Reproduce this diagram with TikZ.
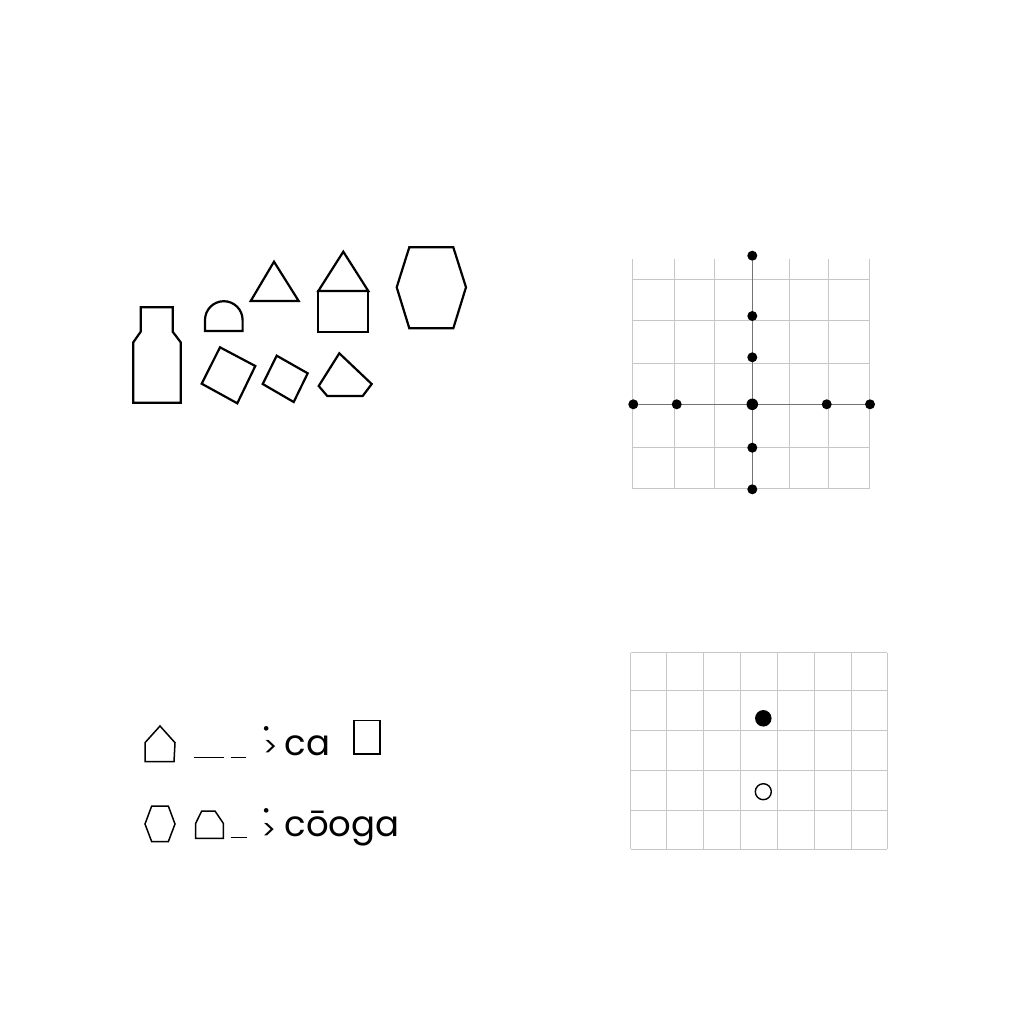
\documentclass[tikz,border=0pt]{standalone}
\usepackage{fontspec}
\setmainfont{Poppins}
\usetikzlibrary{backgrounds}
\newcommand{\dotover}[2]{\rlap{\hspace*{#1}\makebox[0pt][c]{\raisebox{#2}{\fontsize{44}{46}\selectfont ˙}}}>}
\begin{document}
\begin{tikzpicture}[x=1pt,y=-1pt,
  outline/.style={draw=black,line width=2.2pt,line join=miter},
  smalloutline/.style={draw=black,line width=1.5pt,line join=miter},
  gridline/.style={draw=black!22,line width=1pt},
  axisline/.style={draw=black!55,line width=1.6pt},
  blackdot/.style={circle,fill=black,inner sep=0pt,minimum size=10pt},
  bigblackdot/.style={circle,fill=black,inner sep=0pt,minimum size=11.5pt},
  ringmark/.style={circle,draw=black,line width=1.4pt,inner sep=0pt,minimum size=16pt},
  txt/.style={inner sep=0pt,anchor=base west,font=\fontsize{35.5}{40}\selectfont},
  arrowtxt/.style={inner sep=0pt,anchor=base west,font=\fontsize{27}{30}\selectfont}]
\useasboundingbox (0,0) rectangle (1024,1024);

% ---------- top-left shapes ----------
\draw[outline] (140.7,307.3) -- (172.7,307.3) -- (172.7,331.7) -- (180.7,342.3) -- (180.7,402.7)
  -- (133.3,402.7) -- (133.3,342.3) -- (140.7,331.7) -- cycle;
\draw[outline] (205,331) -- (205,320) arc[start angle=180,end angle=360,radius=18.8] -- (242.6,331) -- cycle;
\draw[outline] (274,261.7) -- (298.7,301) -- (250.7,301) -- cycle;
\draw[outline] (343.3,251.7) -- (368.3,291) -- (318.3,291) -- cycle;
\draw[outline] (318.3,291) rectangle (368.3,331.7);
\draw[outline] (409.3,247.3) -- (453.3,247.3) -- (466,287.3) -- (453.3,328.3) -- (409.3,328.3) -- (396.7,287.3) -- cycle;
\draw[outline] (220,347.3) -- (255.3,366) -- (237.3,403.3) -- (201.7,383.7) -- cycle;
\draw[outline] (276.7,355.7) -- (307.7,373.3) -- (293.7,402) -- (262.7,384) -- cycle;
\draw[outline] (339.3,353.3) -- (371.7,384) -- (362.7,396) -- (327.3,396) -- (318.7,386) -- cycle;

% ---------- top-right axes ----------
\coordinate (ct) at (752.3,255.7);
\coordinate (cu2) at (752.3,316);
\coordinate (cu1) at (752.3,357.3);
\coordinate (co) at (752.3,404.3);
\coordinate (cd1) at (752.3,447.7);
\coordinate (cb) at (752.3,489.3);
\coordinate (cl) at (633.3,404.3);
\coordinate (cl1) at (676.7,404.3);
\coordinate (cr1) at (826.7,404.3);
\coordinate (cr) at (870,404.3);
\node[blackdot] (t) at (ct) {};
\node[blackdot] (u2) at (cu2) {};
\node[blackdot] (u1) at (cu1) {};
\node[bigblackdot] (o) at (co) {};
\node[blackdot] (d1) at (cd1) {};
\node[blackdot] (b) at (cb) {};
\node[blackdot] (l) at (cl) {};
\node[blackdot] (l1) at (cl1) {};
\node[blackdot] (r1) at (cr1) {};
\node[blackdot] (r) at (cr) {};

% ---------- bottom-right grid with markers ----------
\node[circle,fill=black,inner sep=0pt,minimum size=16.5pt] (full) at (763.3,718.3) {};
\node[ringmark] (open) at (763.3,791.7) {};

\begin{pgfonlayer}{background}
  \fill[white] (0,0) rectangle (1024,1024);
  % top-right grid
  \foreach \x in {632.3,674,714.3,752.3,789.3,828.3,869} \draw[gridline] (\x,259.3) -- (\x,488.7);
  \foreach \y in {279,320.7,363.3,404.3,447.3,488.7} \draw[gridline] (632.3,\y) -- (869,\y);
  \draw[axisline] (t) -- (b);
  \draw[axisline] (l) -- (r);
  % bottom-right grid
  \foreach \x in {630.7,666.7,703.3,740.7,777.3,814.3,851,887.3} \draw[gridline] (\x,652.7) -- (\x,849);
  \foreach \y in {652.7,690.7,730.7,770.7,810.7,849} \draw[gridline] (630.7,\y) -- (887.3,\y);
\end{pgfonlayer}

% ---------- bottom-left rows ----------
\draw[smalloutline] (160,726) -- (175,742.7) -- (174,761.7) -- (145,761.7) -- (145,742.7) -- cycle;
\draw[smalloutline] (194,757.3) -- (224,757.3);
\draw[smalloutline] (230.7,757.3) -- (246,757.3);
\node[arrowtxt] (g1) at (263,756.7) {\dotover{3.7pt}{-1.6pt}};
\node[txt] (w1) at (284.5,755) {ca};
\draw[smalloutline] (354,720.7) rectangle (380,754);

\draw[smalloutline] (151.7,806) -- (168.3,806) -- (175,824) -- (168.3,841.7) -- (151.7,841.7) -- (145,824) -- cycle;
\draw[smalloutline] (201.7,811) -- (215,811) -- (223.3,823.3) -- (223.3,838.3) -- (195.7,838.3) -- (195.7,823.3) -- cycle;
\draw[smalloutline] (230.7,837.3) -- (246.7,837.3);
\node[arrowtxt] (g2) at (261.5,839) {\dotover{5.2pt}{-1.2pt}};
\node[txt] (w2) at (284.5,836.7) {cōoga};
\end{tikzpicture}
\end{document}
